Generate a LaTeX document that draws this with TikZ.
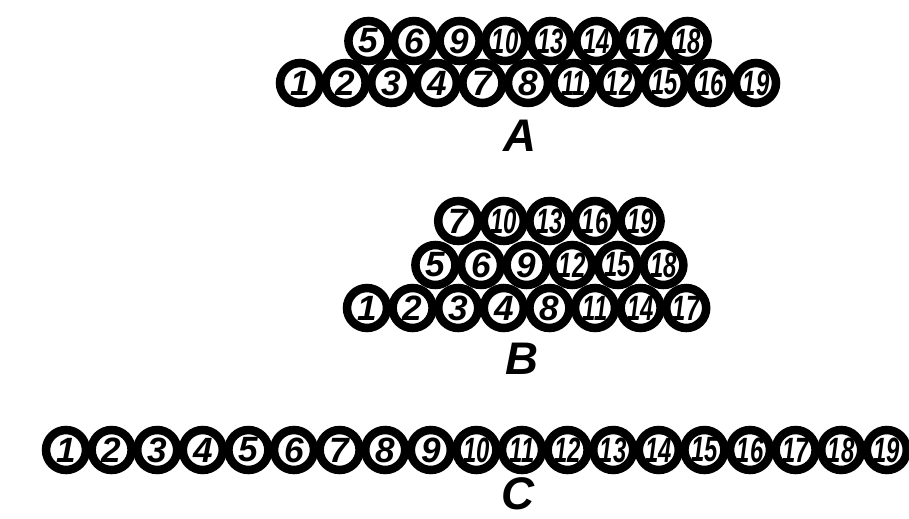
\documentclass[tikz,border=0pt]{standalone}
\usepackage{fontspec}
\setsansfont{Liberation Sans}
\usepackage{tikz}
\usetikzlibrary{positioning}
\newcommand{\ballnum}[1]{\ifnum#1>9 \scalebox{.68}[1]{#1}\else #1\fi}

\begin{document}
\begin{tikzpicture}[x=0.02cm,y=-0.02cm]
	\tikzstyle{ball}=[draw,fill=white,circle,line width=0.17cm,minimum size=0.8cm,inner sep=0pt,
	  font=\sffamily\bfseries\itshape\fontsize{20}{20}\selectfont]
	\tikzstyle{caption}=[inner sep=0pt,font=\sffamily\bfseries\itshape\fontsize{26}{28}\selectfont]
	\useasboundingbox (0,0) rectangle (909,518);
	% A: two rows
	\foreach \n [count=\i] in {5,6,9,10,13,14,17,18}
	  \node [ball] (a\n) at ({300+45.6*(\i+0.5)},41) {\ballnum{\n}};
	\foreach \n [count=\i] in {1,2,3,4,7,8,11,12,15,16,19}
	  \node [ball] (a\n) at ({300+45.6*(\i-1)},83) {\ballnum{\n}};
	\node [caption] (la) at (520,136) {A};
	% B: three rows
	\foreach \n [count=\i] in {7,10,13,16,19}
	  \node [ball] (b\n) at ({367+45.6*(\i+1)},221) {\ballnum{\n}};
	\foreach \n [count=\i] in {5,6,9,12,15,18}
	  \node [ball] (b\n) at ({367+45.6*(\i+0.5)},265) {\ballnum{\n}};
	\foreach \n [count=\i] in {1,2,3,4,8,11,14,17}
	  \node [ball] (b\n) at ({367+45.6*(\i-1)},308) {\ballnum{\n}};
	\node [caption] (lb) at (522,359) {B};
	% C: one row
	\foreach \n in {1,...,19}
	  \node [ball] (c\n) at ({66+45.6*(\n-1)},450) {\ballnum{\n}};
	\node [caption] (lc) at (518,494) {C};
\end{tikzpicture}
\end{document}
